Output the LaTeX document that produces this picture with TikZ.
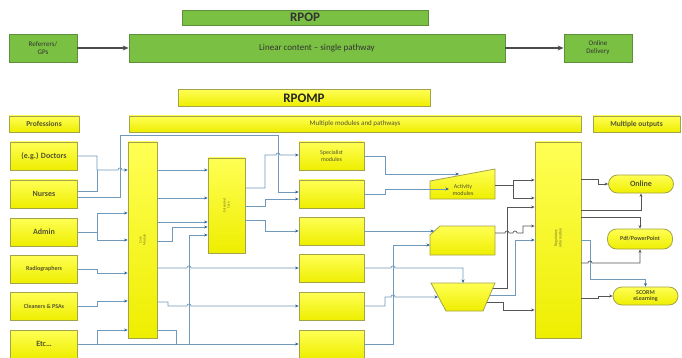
\documentclass[tikz,border=0pt]{standalone}
\usepackage{fontspec}
\setmainfont{Carlito}
\usetikzlibrary{arrows.meta}
\definecolor{gfill}{HTML}{7AC143}
\definecolor{gborder}{HTML}{5E8F3A}
\definecolor{gtext}{HTML}{333333}
\definecolor{ytop}{HTML}{FFFF55}
\definecolor{ybot}{HTML}{EEEE00}
\definecolor{yborder}{HTML}{A3A34A}
\definecolor{ytext}{HTML}{55552E}
\definecolor{lblue}{HTML}{7099BC}
\definecolor{ablue}{HTML}{2F6496}
\definecolor{dgray}{HTML}{555555}
\begin{document}
\begin{tikzpicture}[x=1pt,y=-1pt,
  gbox/.style={draw=gborder, fill=gfill, line width=0.8pt, align=center, text=gtext, inner sep=1pt, font=\fontsize{7}{8}\selectfont},
  ybox/.style={draw=yborder, top color=ytop, bottom color=ybot, line width=0.8pt, align=center, text=ytext, inner sep=1pt, font=\bfseries\fontsize{8}{9}\selectfont},
  yshape/.style={draw=yborder, top color=ytop, bottom color=ybot, line width=0.8pt},
  pill/.style={ybox, rounded corners=9pt},
  tiny/.style={text=ytext!80!yellow, font=\fontsize{3.6}{4}\selectfont, align=center, rotate=90},
  conn/.style={draw=lblue, line width=0.7pt, -{Stealth[length=3.5pt,width=3pt,color=ablue]}},
  cline/.style={draw=lblue, line width=0.7pt},
  dconn/.style={draw=dgray, line width=0.7pt, -{Stealth[length=3.5pt,width=3pt]}},
  bigarr/.style={draw=dgray!90!black, line width=1.3pt, -{Stealth[length=6pt,width=5pt]}}
]
\useasboundingbox (0,0) rectangle (682,358);

% ---------------- RPOP -----------------
\node[gbox, minimum width=246pt, minimum height=15pt, font=\bfseries\fontsize{13}{14}\selectfont] (rpop) at (305,17.5) {RPOP};
\node[gbox, minimum width=68pt, minimum height=28pt] (refg) at (43,48) {Referrers/\\GPs};
\node[gbox, minimum width=376pt, minimum height=28pt, font=\fontsize{9}{10}\selectfont] (lin) at (317,48) {Linear content -- single pathway};
\node[gbox, minimum width=68pt, minimum height=28pt] (odel) at (598,48) {Online\\Delivery};
\draw[bigarr] (refg) -- (lin);
\draw[bigarr] (lin) -- (odel);

% ---------------- RPOMP -----------------
\node[ybox, minimum width=252pt, minimum height=17pt, font=\bfseries\fontsize{13}{14}\selectfont, text=black!85] (rpomp) at (304,98) {RPOMP};
\node[ybox, minimum width=70pt, minimum height=16pt, font=\bfseries\fontsize{7.5}{8}\selectfont] (prof) at (44,124) {Professions};
\node[ybox, minimum width=452pt, minimum height=16pt, font=\fontsize{7}{8}\selectfont] (mmp) at (355,124) {Multiple modules and pathways};
\node[ybox, minimum width=87pt, minimum height=16pt, font=\bfseries\fontsize{7.5}{8}\selectfont] (mout) at (636.5,124) {Multiple outputs};

% professions
\node[ybox, minimum width=67pt, minimum height=28pt] (doc) at (44,156) {(e.g.) Doctors};
\node[ybox, minimum width=67pt, minimum height=28pt] (nur) at (44,194) {Nurses};
\node[ybox, minimum width=67pt, minimum height=28pt] (adm) at (44,232) {Admin};
\node[ybox, minimum width=67pt, minimum height=28pt, font=\bfseries\fontsize{6}{7}\selectfont] (rad) at (44,269) {Radiographers};
\node[ybox, minimum width=67pt, minimum height=28pt, font=\bfseries\fontsize{6}{7}\selectfont] (cln) at (44,306) {Cleaners \& PSAs};
\node[ybox, minimum width=67pt, minimum height=28pt] (etc) at (44,344) {Etc…};

% core / extended core
\node[ybox, minimum width=29pt, minimum height=196pt] (core) at (142.5,240) {};
\node[tiny] at (core.center) {Core\\Module};
\node[ybox, minimum width=37pt, minimum height=95pt] (ext) at (226.5,205.5) {};
\node[tiny] at (ext.center) {Extended\\Core};

% middle modules
\node[ybox, minimum width=65pt, minimum height=28pt, font=\fontsize{6}{7}\selectfont] (sp) at (331.5,156) {Specialist\\modules};
\node[ybox, minimum width=65pt, minimum height=28pt] (b2) at (331.5,194) {};
\node[ybox, minimum width=65pt, minimum height=28pt] (b3) at (331.5,231) {};
\node[ybox, minimum width=65pt, minimum height=28pt] (b4) at (331.5,268.5) {};
\node[ybox, minimum width=65pt, minimum height=28pt] (b5) at (331.5,306) {};
\node[ybox, minimum width=65pt, minimum height=28pt] (b6) at (331.5,344) {};

% shapes
\draw[yshape] (430,181) -- (495,169) -- (495,199) -- (430,199) -- cycle;
\node[text=ytext, font=\fontsize{6}{7}\selectfont, align=center] (act) at (463,190) {Activity\\modules};
\draw[yshape] (430,235) -- (440,226) -- (495,226) -- (495,255) -- (430,255) -- cycle;
\coordinate (card) at (462,241);
\draw[yshape] (431,283) -- (495,283) -- (483,311) -- (446,311) -- cycle;
\coordinate (trap) at (463,297);

% regulatory
\node[ybox, minimum width=46pt, minimum height=196pt] (reg) at (558,240) {};
\node[tiny, font=\fontsize{4}{4.5}\selectfont] at (558,238) {Regulatory\\information};

% outputs
\node[pill, minimum width=65pt, minimum height=18pt] (onl) at (641,184) {Online};
\node[pill, minimum width=65pt, minimum height=20pt, font=\bfseries\fontsize{6}{7}\selectfont] (pdf) at (640,239) {Pdf/PowerPoint};
\node[pill, minimum width=65pt, minimum height=18pt, font=\bfseries\fontsize{6}{6.5}\selectfont] (scorm) at (645.5,296) {SCORM\\eLearning};

% ---------- connectors: professions -> core ----------
\draw[conn] (doc.east) -- (97,156) -- (97,170) -- (118,170) arc[start angle=180,end angle=0,radius=2pt] -- (core.west |- 0,170);
\draw[cline] (nur.east |- 0,191) -- (97,191) -- (97,170);
\draw[conn] (nur.east |- 0,197) -- (120,197) -- (120,135) -- (278,135) -- (278,192) -- (b2.west |- 0,192);
\draw[conn] (adm.east) -- (97,232) -- (97,213) -- (core.west |- 0,213);
\draw[conn] (97,232) -- (97,240) -- (core.west |- 0,240);
\draw[conn] (rad.east) -- (97,269) -- (97,273) -- (core.west |- 0,273);
\draw[conn] (cln.east) -- (97,306) -- (97,301) -- (core.west |- 0,301);
\draw[conn] (etc.east) -- (97,344) -- (97,330) -- (core.west |- 0,330);
\draw[conn] (etc.east) -- (b6.west);

% ---------- core -> extended core / modules ----------
\draw[conn] (core.east |- 0,170) -- (ext.west |- 0,170);
\draw[conn] (core.east |- 0,198) -- (ext.west |- 0,198);
\draw[conn] (core.east |- 0,222) -- (ext.west |- 0,222);
\draw[conn] (core.east |- 0,241) -- (172,241) -- (172,227) -- (ext.west |- 0,227);
\draw[cline] (core.east |- 0,330) -- (176,330) -- (176,344);
\draw[conn] (189,344) -- (189,235) -- (ext.west |- 0,235);
\draw[conn] (core.east |- 0,268) -- (187,268) arc[start angle=180,end angle=0,radius=2pt] -- (b4.west |- 0,268);
\draw[conn] (core.east |- 0,302) -- (168,302) -- (168,306) -- (187,306) arc[start angle=180,end angle=0,radius=2pt] -- (b5.west);

% ---------- extended core -> modules ----------
\draw[conn] (ext.east |- 0,188) -- (265,188) -- (265,155) -- (276,155) arc[start angle=180,end angle=0,radius=2pt] -- (sp.west |- 0,155);
\draw[conn] (ext.east |- 0,206) -- (265,206) -- (265,199) -- (b2.west |- 0,199);
\draw[conn] (ext.east |- 0,220) -- (265,220) -- (265,231) -- (b3.west);

% ---------- modules -> shapes ----------
\draw[conn] (sp.east) -- (385,156) -- (385,174) -- (459,174);
\draw[conn] (b2.east |- 0,194) -- (385,194) -- (385,189) -- (act.west |- 0,189);
\draw[conn] (b3.east) -- (434,231);
\draw[conn] (b4.east |- 0,268) -- (391,268) arc[start angle=180,end angle=0,radius=2pt] -- (463,268) -- (463,283);
\draw[conn] (b5.east) -- (385,306) -- (385,297) -- (391,297) arc[start angle=180,end angle=0,radius=2pt] -- (438,297);
\draw[conn] (b6.east |- 0,344) -- (393,344) -- (393,245) -- (430,245);

% ---------- shapes -> regulatory ----------
\draw[dconn] (495,185) -- (513,185) -- (513,180) -- (reg.west |- 0,180);
\draw[dconn] (513,185) -- (513,198) -- (reg.west |- 0,198);
\draw[dconn] (495,233) -- (505,233) arc[start angle=180,end angle=0,radius=2pt] -- (513,233) arc[start angle=180,end angle=0,radius=2pt] -- (523,233) -- (523,226) -- (reg.west |- 0,226);
\draw[dconn] (493,288) -- (507,288) -- (507,207) -- (reg.west |- 0,207);
\draw[conn] (490,295) -- (515,295) -- (515,240) -- (reg.west |- 0,240);
\draw[dconn] (487,302) -- (503,302) -- (503,310) -- (reg.west |- 0,310);

% ---------- regulatory -> outputs ----------
\draw[dconn] (reg.east |- 0,179) -- (598,179) -- (598,184) -- (onl.west);
\draw[dconn] (reg.east |- 0,210) -| (onl.south);
\draw[dconn] (reg.east |- 0,217) -| (pdf.north);
\draw[conn] (reg.east |- 0,240) -- (590,240) -- (590,279) -- (scorm.north |- 0,279) -- (scorm.north);
\draw[dconn] (reg.east |- 0,263) -- (588,263) arc[start angle=180,end angle=0,radius=2pt] -- (pdf.south |- 0,263) -- (pdf.south);
\draw[dconn] (reg.east |- 0,298) -- (598,298) -- (598,296) -- (scorm.west);
\end{tikzpicture}
\end{document}
